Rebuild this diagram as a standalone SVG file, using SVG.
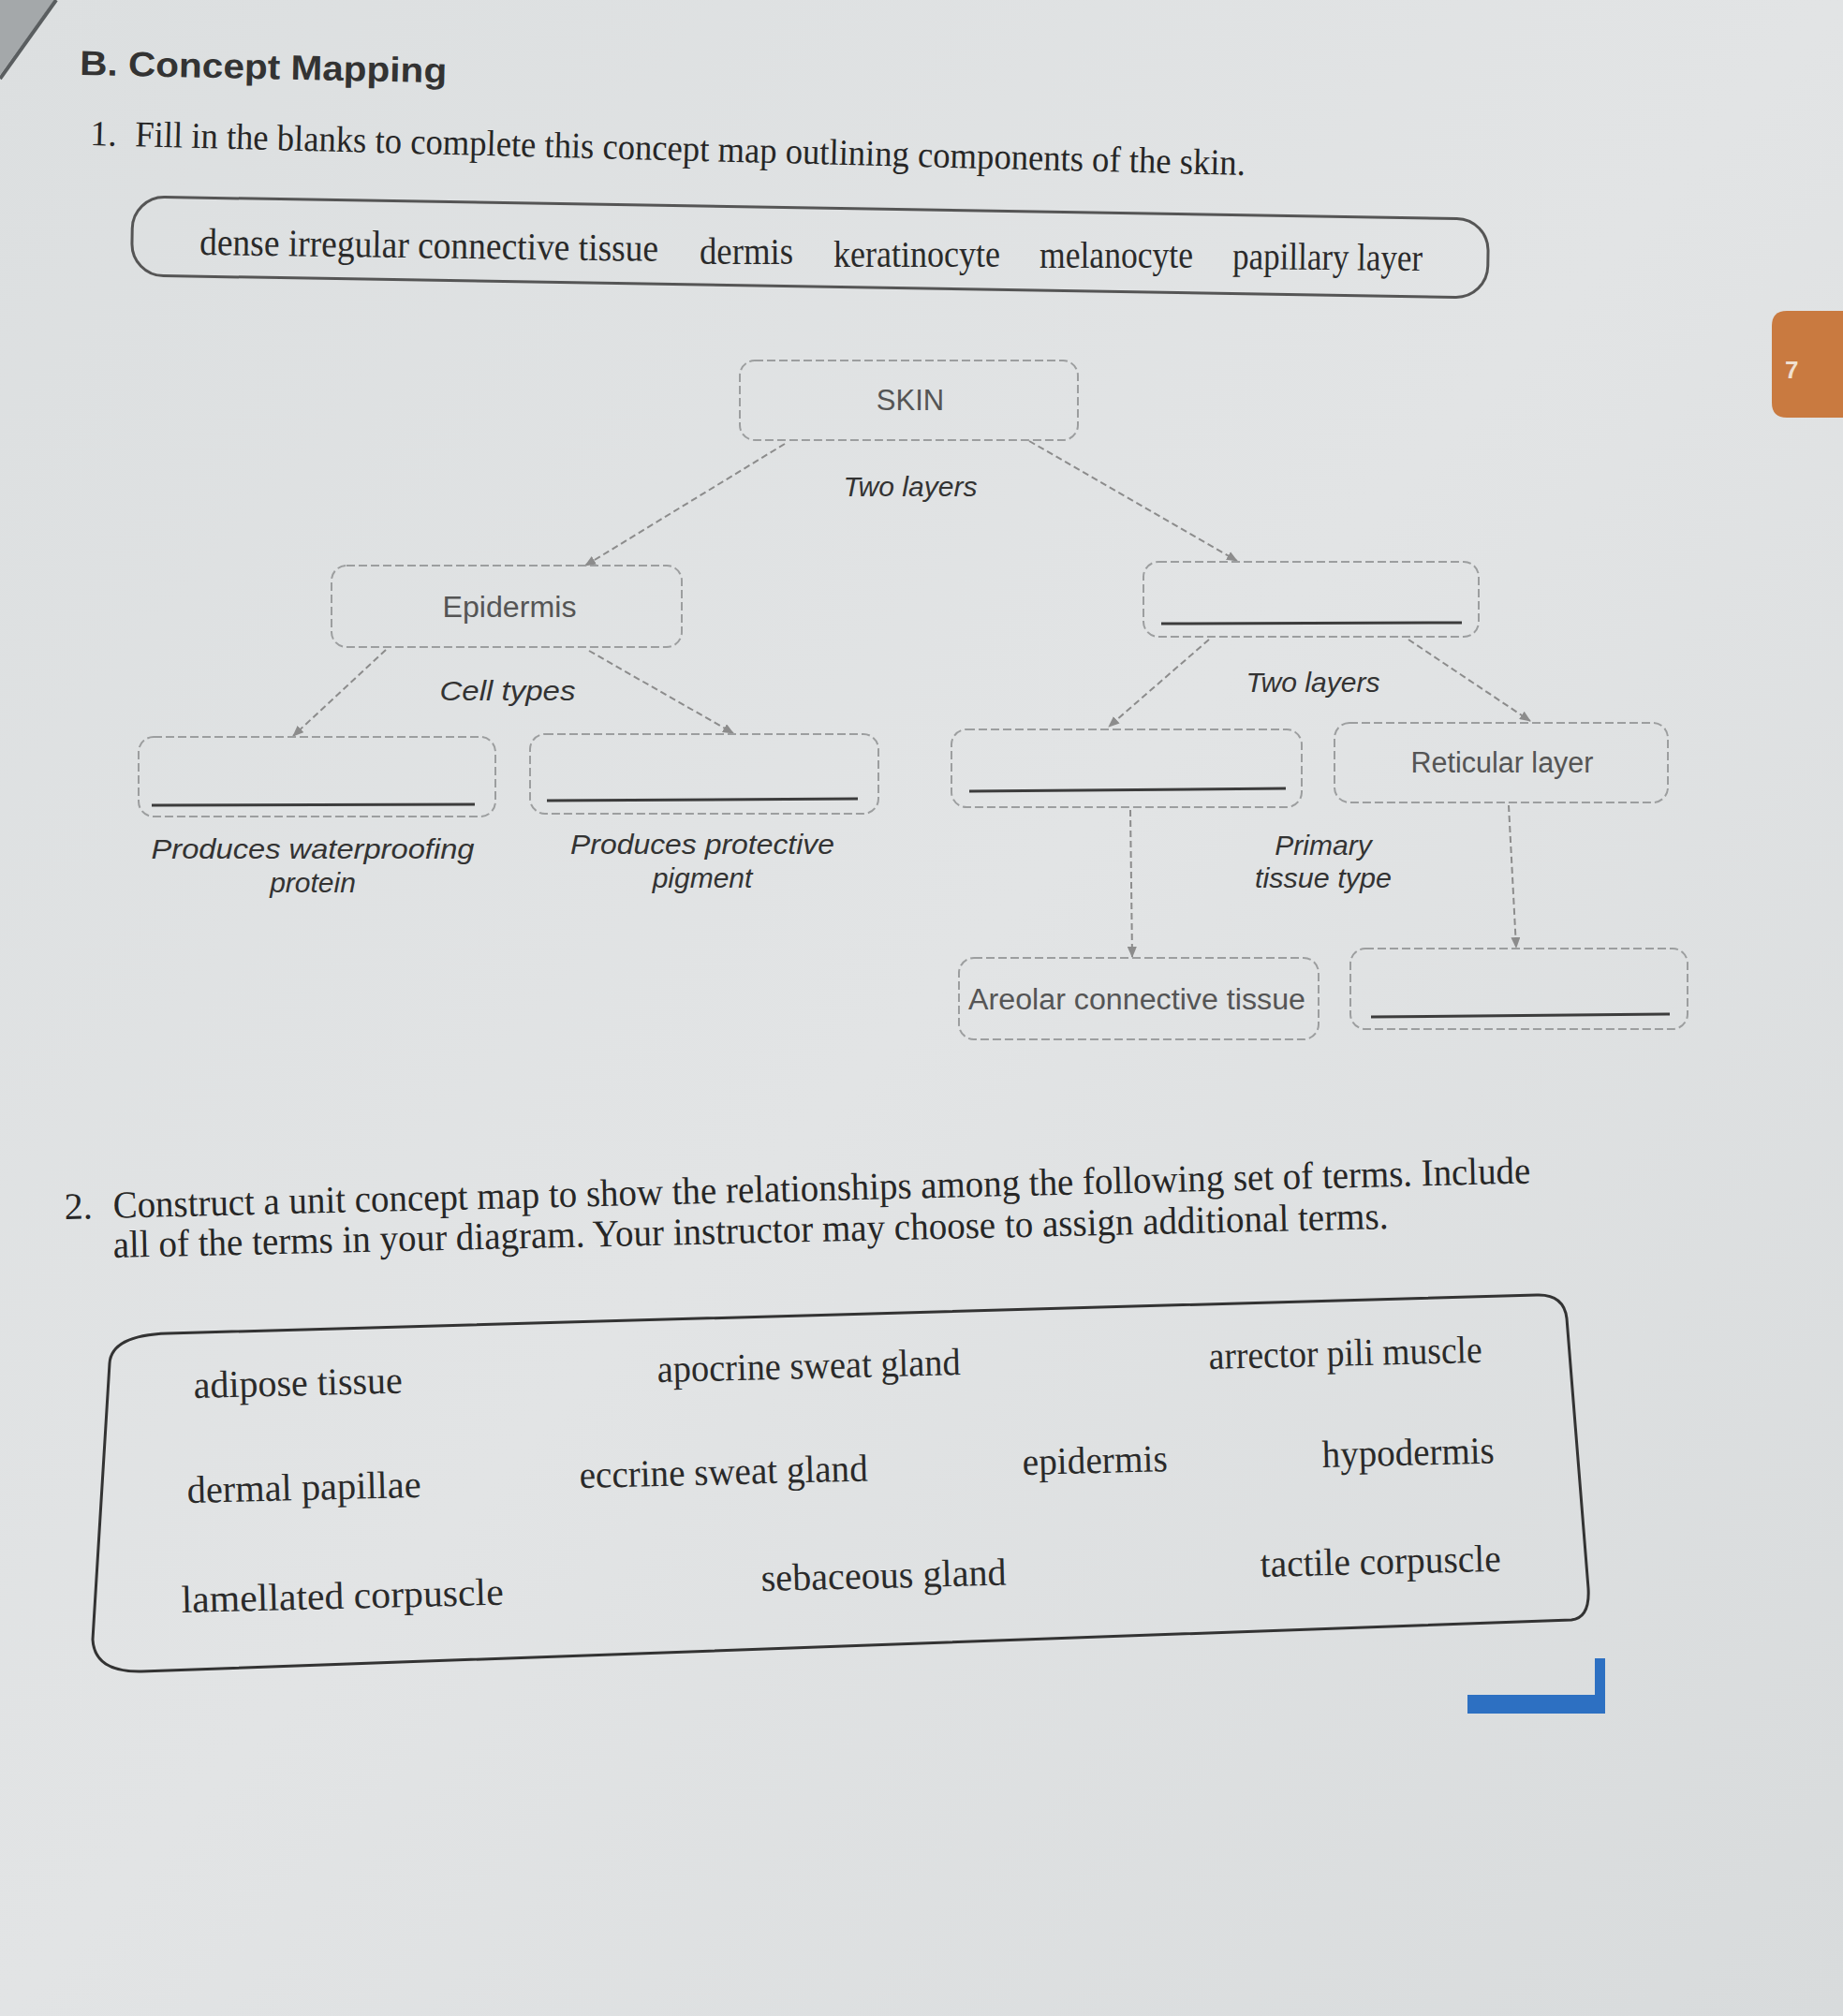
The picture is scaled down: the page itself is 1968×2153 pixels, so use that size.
<svg xmlns="http://www.w3.org/2000/svg" width="1968" height="2153" viewBox="0 0 1968 2153">
<defs>
<linearGradient id="paper" x1="0" y1="0" x2="1" y2="1">
<stop offset="0" stop-color="#dcdfe0"/>
<stop offset="0.5" stop-color="#e2e4e5"/>
<stop offset="1" stop-color="#d8dbdc"/>
</linearGradient>
<marker id="arr" viewBox="0 0 12 10" refX="11" refY="5" markerWidth="12" markerHeight="10" markerUnits="userSpaceOnUse" orient="auto">
<path d="M0,0 L12,5 L0,10 z" fill="#8c8c8c"/>
</marker>
<style>
.print{font-family:"Liberation Serif","Times New Roman",serif;fill:#262626}
.word{font-family:"Liberation Serif","Times New Roman",serif;fill:#2a2a2a;font-size:41px}
.node rect{fill:none;stroke:#9c9e9f;stroke-width:2;stroke-dasharray:9 4}
.ntext{font-family:"Liberation Sans",Arial,sans-serif;font-size:31px;fill:#555;text-anchor:middle}
.link{font-family:"Liberation Sans",Arial,sans-serif;font-size:30px;font-style:italic;fill:#333;text-anchor:middle}
.blank{stroke:#3c3c3c;stroke-width:3}
.conn line{stroke:#8c8c8c;stroke-width:2;stroke-dasharray:7 4;marker-end:url(#arr)}
</style>
</defs>
<rect width="1968" height="2153" fill="url(#paper)"/>
<polygon points="0,0 58,0 0,80" fill="#a4a8aa"/>
<line x1="60" y1="0" x2="0" y2="84" stroke="#5a5e60" stroke-width="4"/>

<!-- orange tab -->
<g id="tab">
<path d="M1968,332 L1908,332 Q1892,332 1892,348 L1892,430 Q1892,446 1908,446 L1968,446 Z" fill="#c97a40"/>
<text x="1906" y="404" font-family="Liberation Sans,Arial,sans-serif" font-size="26" font-weight="bold" fill="#f0e0d0">7</text>
</g>

<!-- headings -->
<text x="85" y="80" transform="rotate(1.2 85 80)" font-family="Liberation Sans,Arial,sans-serif" font-weight="bold" font-size="37" fill="#333" textLength="392" lengthAdjust="spacingAndGlyphs">B. Concept Mapping</text>
<g transform="rotate(1.49 96 155)">
<text class="print" x="96" y="155" font-size="38">1.</text>
<text class="print" x="144" y="155" font-size="39" textLength="1186" lengthAdjust="spacingAndGlyphs">Fill in the blanks to complete this concept map outlining components of the skin.</text>
</g>

<!-- word bank 1 -->
<g id="wordbank1">
<rect x="141" y="222" width="1448" height="84" rx="34" fill="none" stroke="#555" stroke-width="3" transform="rotate(0.95 865 264)"/>
<text class="word" x="213" y="272" transform="rotate(0.8 213 272)" textLength="490" lengthAdjust="spacingAndGlyphs">dense irregular connective tissue</text>
<text class="word" x="747" y="282" textLength="100" lengthAdjust="spacingAndGlyphs">dermis</text>
<text class="word" x="890" y="285" textLength="178" lengthAdjust="spacingAndGlyphs">keratinocyte</text>
<text class="word" x="1110" y="286" textLength="164" lengthAdjust="spacingAndGlyphs">melanocyte</text>
<text class="word" x="1316" y="287" transform="rotate(0.6 1316 287)" textLength="203" lengthAdjust="spacingAndGlyphs">papillary layer</text>
</g>

<!-- concept map connectors -->
<g id="connectors" class="conn">
<line x1="838" y1="474" x2="625" y2="604"/>
<line x1="1099" y1="471" x2="1321" y2="599"/>
<line x1="412" y1="694" x2="313" y2="786"/>
<line x1="629" y1="695" x2="783" y2="783"/>
<line x1="1291" y1="683" x2="1184" y2="776"/>
<line x1="1504" y1="683" x2="1634" y2="770"/>
<line x1="1207" y1="865" x2="1209" y2="1022"/>
<line x1="1611" y1="860" x2="1619" y2="1012"/>
</g>

<!-- link labels -->
<g id="labels">
<text class="link" x="972" y="530" textLength="143" lengthAdjust="spacingAndGlyphs">Two layers</text>
<text class="link" x="542" y="748" textLength="145" lengthAdjust="spacingAndGlyphs">Cell  types</text>
<text class="link" x="1402" y="739" textLength="143" lengthAdjust="spacingAndGlyphs">Two layers</text>
<text class="link" x="334" y="917" textLength="345" lengthAdjust="spacingAndGlyphs">Produces waterproofing</text>
<text class="link" x="334" y="953">protein</text>
<text class="link" x="750" y="912" textLength="282" lengthAdjust="spacingAndGlyphs">Produces protective</text>
<text class="link" x="750" y="948">pigment</text>
<text class="link" x="1413" y="913">Primary</text>
<text class="link" x="1413" y="948" textLength="146" lengthAdjust="spacingAndGlyphs">tissue type</text>
</g>

<!-- concept map nodes -->
<g id="node-skin" class="node">
<rect x="790" y="385" width="361" height="85" rx="16"/>
<text class="ntext" x="972" y="438">SKIN</text>
</g>
<g id="node-epidermis" class="node">
<rect x="354" y="604" width="374" height="87" rx="16"/>
<text class="ntext" x="544" y="659" textLength="143" lengthAdjust="spacingAndGlyphs">Epidermis</text>
</g>
<g id="node-dermis" class="node">
<rect x="1221" y="600" width="358" height="80" rx="16"/>
<line class="blank" x1="1240" y1="666" x2="1561" y2="665"/>
</g>
<g id="node-keratinocyte" class="node">
<rect x="148" y="787" width="381" height="85" rx="16"/>
<line class="blank" x1="162" y1="860" x2="507" y2="859"/>
</g>
<g id="node-melanocyte" class="node">
<rect x="566" y="784" width="372" height="85" rx="16"/>
<line class="blank" x1="584" y1="855" x2="916" y2="853"/>
</g>
<g id="node-papillary" class="node">
<rect x="1016" y="779" width="374" height="83" rx="16"/>
<line class="blank" x1="1035" y1="845" x2="1373" y2="842"/>
</g>
<g id="node-reticular" class="node">
<rect x="1425" y="772" width="356" height="85" rx="16"/>
<text class="ntext" x="1604" y="825" textLength="195" lengthAdjust="spacingAndGlyphs">Reticular layer</text>
</g>
<g id="node-areolar" class="node">
<rect x="1024" y="1023" width="384" height="87" rx="16"/>
<text class="ntext" x="1214" y="1078" textLength="360" lengthAdjust="spacingAndGlyphs">Areolar connective tissue</text>
</g>
<g id="node-dense" class="node">
<rect x="1442" y="1013" width="360" height="86" rx="16"/>
<line class="blank" x1="1464" y1="1086" x2="1783" y2="1083"/>
</g>

<!-- question 2 -->
<g transform="rotate(-1.41 69 1302)">
<text class="print" x="69" y="1302" font-size="40">2.</text>
<text class="print" x="121" y="1302" font-size="41" textLength="1514" lengthAdjust="spacingAndGlyphs">Construct a unit concept map to show the relationships among the following set of terms. Include</text>
</g>
<text class="print" x="121" y="1343" transform="rotate(-1.3 121 1343)" font-size="41" textLength="1362" lengthAdjust="spacingAndGlyphs">all of the terms in your diagram. Your instructor may choose to assign additional terms.</text>

<g id="wordbank2">
<path d="M179,1424 L1641,1383 Q1670,1382 1673,1408 L1696,1696 Q1698,1728 1678,1730 L151,1785 Q101,1786 99,1751 L117,1456 Q119,1426 179,1424 Z" fill="none" stroke="#333" stroke-width="3"/>
<text class="word" x="207" y="1493" transform="rotate(-1.4 207 1493)" textLength="223" lengthAdjust="spacingAndGlyphs">adipose tissue</text>
<text class="word" x="702" y="1476" transform="rotate(-1.4 702 1476)" textLength="324" lengthAdjust="spacingAndGlyphs">apocrine sweat gland</text>
<text class="word" x="1291" y="1462" transform="rotate(-1.4 1291 1462)" textLength="292" lengthAdjust="spacingAndGlyphs">arrector pili muscle</text>
<text class="word" x="200" y="1605" transform="rotate(-1.4 200 1605)" textLength="250" lengthAdjust="spacingAndGlyphs">dermal papillae</text>
<text class="word" x="619" y="1589" transform="rotate(-1.4 619 1589)" textLength="308" lengthAdjust="spacingAndGlyphs">eccrine sweat gland</text>
<text class="word" x="1092" y="1575" transform="rotate(-1.4 1092 1575)" textLength="155" lengthAdjust="spacingAndGlyphs">epidermis</text>
<text class="word" x="1412" y="1567" transform="rotate(-1.4 1412 1567)" textLength="184" lengthAdjust="spacingAndGlyphs">hypodermis</text>
<text class="word" x="194" y="1722" transform="rotate(-1.4 194 1722)" textLength="344" lengthAdjust="spacingAndGlyphs">lamellated corpuscle</text>
<text class="word" x="813" y="1699" transform="rotate(-1.4 813 1699)" textLength="262" lengthAdjust="spacingAndGlyphs">sebaceous gland</text>
<text class="word" x="1346" y="1684" transform="rotate(-1.4 1346 1684)" textLength="257" lengthAdjust="spacingAndGlyphs">tactile corpuscle</text>
</g>

<!-- blue mark -->
<g id="bluemark" fill="#2d70c2">
<rect x="1703" y="1771" width="11" height="59"/>
<rect x="1567" y="1810" width="147" height="20"/>
</g>
</svg>
